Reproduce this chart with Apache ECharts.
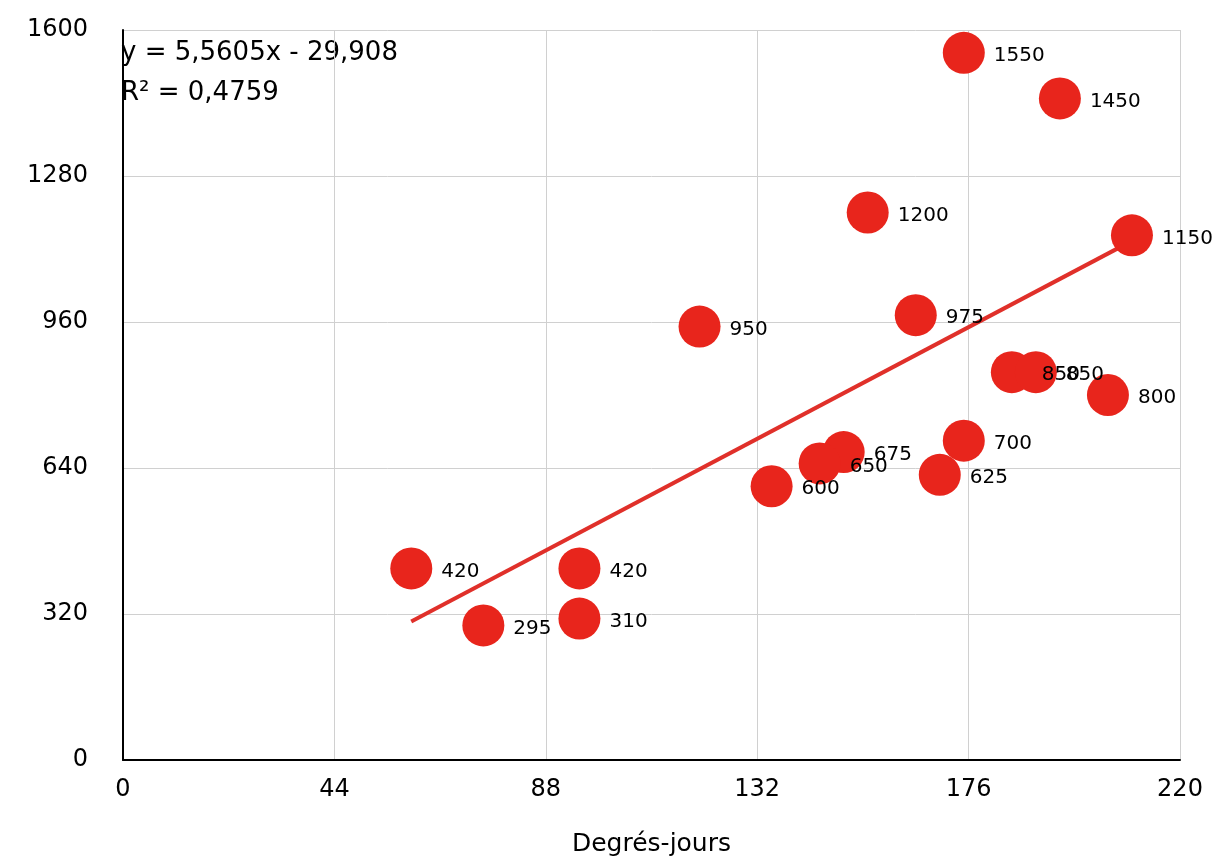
<!DOCTYPE html>
<html><head><meta charset="utf-8">
<script src="https://cdn.jsdelivr.net/npm/echarts@6/dist/echarts.min.js"></script>
<style>html,body{margin:0;padding:0;background:#fff}#c{width:1215px;height:865px}</style>
</head><body><div id="c"></div>
<script>
const xValues = [175, 195, 155, 210, 120, 165, 185, 190, 205, 175, 150, 145, 170, 135, 60, 95, 75, 95];
const yValues = [1550, 1450, 1200, 1150, 950, 975, 850, 850, 800, 700, 675, 650, 625, 600, 420, 420, 295, 310];
const trendX = [60, 210];
const trendY = [303.7, 1137.8];
const xTicks = [0, 44, 88, 132, 176, 220];
const yTicks = [0, 320, 640, 960, 1280, 1600];
const equationText = 'y = 5,5605x - 29,908';
const r2Text = 'R² = 0,4759';
const xName = 'Degrés-jours';

const font = '"DejaVu Sans", sans-serif';
const chart = echarts.init(document.getElementById('c'));
chart.setOption({
  animation: false,
  grid: {left: 123, right: 35, top: 30, bottom: 105},
  xAxis: {
    type: 'value', min: xTicks[0], max: xTicks[xTicks.length - 1], interval: xTicks[1] - xTicks[0],
    name: xName, nameLocation: 'middle', nameGap: 72,
    nameTextStyle: {fontSize: 25, color: '#000', fontFamily: font},
    axisLine: {show: true, lineStyle: {color: '#000', width: 2}},
    axisTick: {show: false},
    axisLabel: {fontSize: 24, color: '#000', fontFamily: font, margin: 18, formatter: v => String(v)},
    splitLine: {show: true, lineStyle: {color: '#d0d0d0', width: 1}}
  },
  yAxis: {
    type: 'value', min: yTicks[0], max: yTicks[yTicks.length - 1], interval: yTicks[1] - yTicks[0],
    axisLine: {show: true, lineStyle: {color: '#000', width: 2}},
    axisTick: {show: false},
    axisLabel: {fontSize: 24, color: '#000', fontFamily: font, margin: 35, formatter: v => String(v)},
    splitLine: {show: true, lineStyle: {color: '#d0d0d0', width: 1}}
  },
  graphic: [{
    type: 'text', left: 121, top: 33,
    style: {text: equationText + '\n' + r2Text, fontSize: 26, lineHeight: 40, fill: '#000', fontFamily: font}
  }],
  series: [{
    type: 'line',
    data: trendX.map((x, i) => [x, trendY[i]]),
    symbol: 'none',
    lineStyle: {color: '#e0302a', width: 4},
    z: 2
  }, {
    type: 'scatter',
    data: xValues.map((x, i) => [x, yValues[i]]),
    symbolSize: 42,
    itemStyle: {color: '#e8251c', opacity: 1},
    label: {
      show: true, position: 'right', distance: 9, offset: [0, 3],
      formatter: p => String(p.value[1]),
      fontSize: 20, color: '#000', fontFamily: font
    },
    z: 3
  }]
});
</script></body></html>
